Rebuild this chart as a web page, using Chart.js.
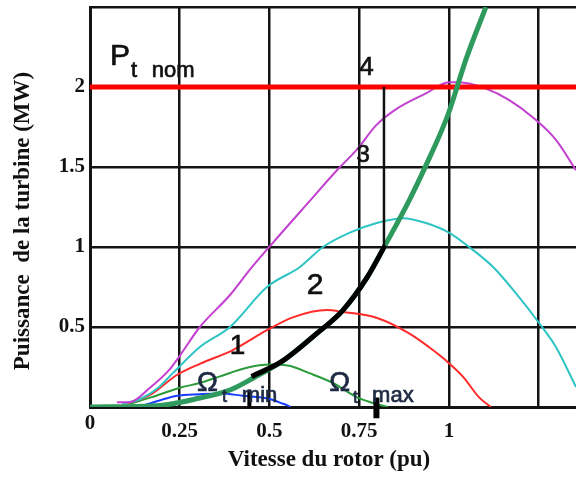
<!DOCTYPE html>
<html>
<head>
<meta charset="utf-8">
<script src="https://cdn.jsdelivr.net/npm/chart.js@4.4.1/dist/chart.umd.min.js"></script>
<style>
  html, body { margin: 0; padding: 0; background: #fff; overflow: hidden; }
  #wrap { position: relative; width: 576px; height: 481px; }
</style>
</head>
<body>
<div id="wrap"><canvas id="myChart"></canvas></div>
<script>
// Axis ticks
const xTickValues = [0, 0.25, 0.5, 0.75, 1, 1.25];
const xTickLabels = ["0", "0.25", "0.5", "0.75", "1", ""];
const yTickValues = [0, 0.5, 1, 1.5, 2, 2.5];
const yTickLabels = ["", "0.5", "1", "1.5", "2", ""];

// Turbine power curves (rotor speed in pu, power in MW), one per wind speed
const blueSpeed = [0.15, 0.2, 0.242, 0.306, 0.362, 0.426, 0.5, 0.538, 0.56];
const bluePower = [0.01, 0.045, 0.07, 0.08, 0.085, 0.07, 0.05, 0.02, 0];

const greenSpeed = [0.11, 0.17, 0.25, 0.306, 0.36, 0.437, 0.5, 0.55, 0.613, 0.677, 0.744, 0.788, 0.83];
const greenPower = [0.02, 0.06, 0.12, 0.15, 0.19, 0.245, 0.265, 0.26, 0.21, 0.15, 0.06, 0.025, 0];

const redSpeed = [0.1, 0.167, 0.242, 0.306, 0.398, 0.493, 0.565, 0.66, 0.705, 0.8, 0.889, 0.944, 0.992, 1.039, 1.084, 1.117];
const redPower = [0.02, 0.075, 0.2, 0.27, 0.356, 0.48, 0.56, 0.606, 0.594, 0.556, 0.46, 0.375, 0.29, 0.19, 0.06, 0];

const cyanSpeed = [0.09, 0.14, 0.19, 0.23, 0.306, 0.39, 0.493, 0.585, 0.649, 0.724, 0.799, 0.872, 0.936, 1.0, 1.056, 1.123, 1.187, 1.251, 1.298, 1.354];
const cyanPower = [0.02, 0.05, 0.12, 0.21, 0.375, 0.5, 0.75, 0.875, 1.0, 1.09, 1.15, 1.18, 1.15, 1.09, 1.0, 0.875, 0.71, 0.525, 0.375, 0.125];

const magentaSpeed = [0.075, 0.11, 0.167, 0.22, 0.25, 0.306, 0.39, 0.446, 0.507, 0.613, 0.688, 0.744, 0.797, 0.852, 0.936, 1.0, 1.028, 1.103, 1.167, 1.234, 1.298, 1.354];
const magentaPower = [0.03, 0.03, 0.12, 0.23, 0.32, 0.5, 0.7, 0.86, 1.02, 1.29, 1.48, 1.61, 1.76, 1.86, 1.96, 2.03, 2.03, 1.99, 1.92, 1.81, 1.67, 1.48];

// Optimal power curve and the MPPT part of it
const optSpeed = [0, 0.195, 0.306, 0.39, 0.454, 0.538, 0.632, 0.705, 0.772, 0.822, 0.889, 0.936, 0.997, 1.047, 1.103];
const optPower = [0, 0.01, 0.056, 0.106, 0.18, 0.29, 0.46, 0.606, 0.81, 1.01, 1.29, 1.51, 1.825, 2.17, 2.5];
const mpptSpeed = [0.45, 0.538, 0.632, 0.705, 0.772, 0.822];
const mpptPower = [0.19, 0.29, 0.46, 0.606, 0.81, 1.01];

// Constant speed segment, nominal power, speed limits
const omegaMaxLineSpeed = [0.819, 0.819];
const omegaMaxLinePower = [1.01, 2.0];
const nominalSpeed = [0, 1.354];
const nominalPower = [2, 2];
const omegaMinMarkSpeed = [0.444, 0.444];
const omegaMinMarkPower = [0.11, -0.005];
const omegaMaxMarkSpeed = [0.798, 0.798];
const omegaMaxMarkPower = [0.06, -0.07];

function toPoints(xs, ys) {
  return xs.map((x, i) => ({ x: x, y: ys[i] }));
}

function curve(xs, ys, color, width, extra) {
  return Object.assign({
    data: toPoints(xs, ys),
    borderColor: color,
    borderWidth: width,
    pointRadius: 0,
    showLine: true,
    fill: false,
    cubicInterpolationMode: "monotone",
  }, extra || {});
}

const serif = "'Liberation Serif', 'Times New Roman', serif";
const sans = "'Liberation Sans', Arial, sans-serif";

// texts drawn on top of the plot
const textPlugin = {
  id: "texts",
  afterDraw(chart) {
    const ctx = chart.ctx;
    const xs = chart.scales.x;
    const ys = chart.scales.y;
    const px = (v) => xs.getPixelForValue(v);
    const py = (p) => ys.getPixelForValue(p);

    function put(text, v, p, size, color, align, baseline) {
      ctx.font = size + "px " + sans;
      ctx.fillStyle = color;
      ctx.strokeStyle = color;
      ctx.lineWidth = 0.7;
      ctx.textAlign = align || "center";
      ctx.textBaseline = baseline || "middle";
      ctx.fillText(text, px(v), py(p));
      ctx.strokeText(text, px(v), py(p));
    }

    ctx.save();
    put("P", 0.056, 2.14, 30, "#111", "left", "alphabetic");
    put("t", 0.114, 2.0625, 22, "#111", "left", "alphabetic");
    put("nom", 0.172, 2.0625, 22, "#111", "left", "alphabetic");
    put("4", 0.77, 2.12, 26, "#111");
    put("3", 0.761, 1.575, 24, "#111");
    put("2", 0.627, 0.756, 30, "#111");
    put("1", 0.411, 0.381, 28, "#111");
    put("\u03A9", 0.327, 0.15, 28, "#1f2a44");
    put("t", 0.375, 0.0625, 18, "#1f2a44");
    put("min", 0.423, 0.03, 22, "#1f2a44", "left", "alphabetic");
    put("\u03A9", 0.696, 0.15, 28, "#1f2a44");
    put("t", 0.74, 0.056, 18, "#1f2a44");
    put("max", 0.786, 0.03, 22, "#1f2a44", "left", "alphabetic");

    // axis titles
    ctx.fillStyle = "#111";
    ctx.font = "bold 23px " + serif;
    ctx.textAlign = "center";
    ctx.textBaseline = "middle";
    ctx.fillText("Vitesse du rotor (pu)", 329, 460);
    ctx.translate(23.5, 221);
    ctx.rotate(-Math.PI / 2);
    ctx.fillText("Puissance  de la turbine (MW)", 0, 0);
    ctx.restore();
  },
};

const tickFont = { family: serif, size: 21, weight: "bold" };

new Chart(document.getElementById("myChart"), {
  type: "scatter",
  data: {
    datasets: [
      curve(omegaMinMarkSpeed, omegaMinMarkPower, "#000", 4, { clip: false, cubicInterpolationMode: "default" }),
      curve(omegaMaxMarkSpeed, omegaMaxMarkPower, "#000", 6, { clip: false, cubicInterpolationMode: "default" }),
      curve(omegaMaxLineSpeed, omegaMaxLinePower, "#111", 2.5, { cubicInterpolationMode: "default" }),
      curve(mpptSpeed, mpptPower, "#000", 5),
      curve(optSpeed, optPower, "#2e9a5e", 5),
      curve(nominalSpeed, nominalPower, "#ff0000", 5, { cubicInterpolationMode: "default" }),
      curve(magentaSpeed, magentaPower, "#c23fd0", 2),
      curve(cyanSpeed, cyanPower, "#2ec4c4", 2),
      curve(redSpeed, redPower, "#ff2a2a", 2),
      curve(greenSpeed, greenPower, "#2a9a3a", 2),
      curve(blueSpeed, bluePower, "#1a3cff", 2),
    ],
  },
  options: {
    responsive: true,
    maintainAspectRatio: false,
    animation: false,
    layout: { padding: { top: 7, right: 0, left: 0, bottom: 0 } },
    scales: {
      x: {
        type: "linear",
        min: 0,
        max: 1.354,
        afterBuildTicks: (scale) => {
          scale.ticks = xTickValues.map((v) => ({ value: v }));
        },
        afterFit: (scale) => {
          scale.height = 74;
          scale.paddingLeft = 0;
          scale.paddingRight = 0;
        },
        grid: { color: "#141414", lineWidth: 2.5, drawTicks: false },
        border: { display: true, color: "#141414", width: 3 },
        ticks: {
          padding: 12,
          maxRotation: 0,
          color: "#111",
          // the "0" label sits a bit higher than the others
          font: (c) => (c.tick && c.tick.value === 0 ? Object.assign({}, tickFont, { lineHeight: 0.48 }) : tickFont),
          callback: (value, index) => xTickLabels[index],
        },
      },
      y: {
        type: "linear",
        min: 0,
        max: 2.5,
        afterBuildTicks: (scale) => {
          scale.ticks = yTickValues.map((v) => ({ value: v }));
        },
        afterFit: (scale) => {
          scale.width = 90;
          scale.paddingTop = 0;
          scale.paddingBottom = 0;
        },
        grid: { color: "#141414", lineWidth: 2.5, drawTicks: false },
        border: { display: true, color: "#141414", width: 3 },
        ticks: {
          padding: 5,
          color: "#111",
          font: tickFont,
          callback: (value, index) => yTickLabels[index],
        },
      },
    },
    plugins: {
      legend: { display: false },
      tooltip: { enabled: false },
    },
  },
  plugins: [textPlugin],
});
</script>
</body>
</html>
